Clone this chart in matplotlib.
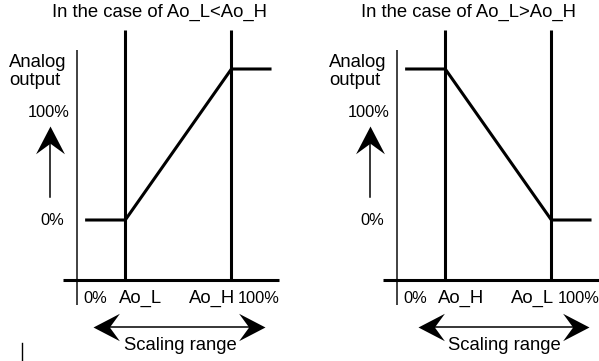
import matplotlib
matplotlib.use('Agg')
import matplotlib.pyplot as plt
from matplotlib.path import Path
from matplotlib.markers import MarkerStyle
from matplotlib.transforms import Affine2D

plt.rcParams['font.family'] = ['Liberation Sans', 'DejaVu Sans']

# -------- data (percent of input / output)
titles = ['In the case of Ao_L<Ao_H', 'In the case of Ao_L>Ao_H']
limit_x = [25, 80]                       # positions of the two vertical limit lines
out_x_left = [5, 25, 80, 100]
out_y_left = [0, 0, 100, 100]
out_x_right = [5, 25, 80, 100]
out_y_right = [100, 100, 0, 0]
xlab_left = ['0%', 'Ao_L', 'Ao_H', '100%']
xlab_right = ['0%', 'Ao_H', 'Ao_L', '100%']
xlab_pos = [9.5, 33, 70, 94.3]
ylab_text = ['100%', '0%']
ylab_pos = [71, 0]
ylab_right = [-3.8, -6.8]

# -------- pixel scale of the drawing
W, H = 599, 361
sx, sy = 1.93, 1.51      # px per percent
y0_px = 220              # row of 0% output

# barbed arrow head, tip at origin, pointing +x
head = Path([(0, 0), (-1, 0.52), (-0.62, 0), (-1, -0.52), (0, 0)],
            [Path.MOVETO, Path.LINETO, Path.LINETO, Path.LINETO, Path.CLOSEPOLY])


def arrow_head(ax, x, y, ang, ms):
    m = MarkerStyle(head, transform=Affine2D().rotate_deg(ang))
    ax.plot([x], [y], marker=m, ms=ms, color='black', mew=0)


def panel(ax, x0_px, title, ox, oy, xlabs, title_x, scal_x):
    ax.set_position([0, 0, 1, 1])
    ax.set_xlim(-x0_px / sx, (W - x0_px) / sx)
    ax.set_ylim((y0_px - H) / sy, y0_px / sy)
    ax.axis('off')

    # axes lines
    ax.plot([0, 0], [-56, 112.6], color='#333333', lw=1.3, solid_capstyle='butt')
    ax.plot([-7.3, 104.5], [-39.7, -39.7], color='black', lw=2.2, solid_capstyle='butt')

    # limit lines
    for xv in limit_x:
        ax.plot([xv, xv], [-39.7, 125.8], color='black', lw=2.2, solid_capstyle='butt')

    # output characteristic
    ax.plot(ox, oy, color='black', lw=2.2, solid_joinstyle='miter')

    # labels
    ax.text(title_x, 137.7, title, fontsize=13.3, ha='center', va='center')
    ax.text(-35.2, 98.5, 'Analog\noutput', fontsize=13.3, ha='left', va='center',
            linespacing=1.05)
    for t, yv, xr in zip(ylab_text, ylab_pos, ylab_right):
        ax.text(xr, yv, t, fontsize=11.8, ha='right', va='center')
    for t, xv in zip(xlabs, xlab_pos):
        fs = 11.8 if '%' in t else 13.3
        ax.text(xv, -51.7, t, fontsize=fs, ha='center', va='center')

    # up arrow
    ax.plot([-14, -14], [15, 55], color='black', lw=1.1)
    arrow_head(ax, -14, 62.5, 90, 40)
    # scaling range arrow
    ax.plot([scal_x[0] + 5, scal_x[1] - 5], [-70.9, -70.9], color='black', lw=1.1)
    arrow_head(ax, scal_x[0], -70.9, 180, 38)
    arrow_head(ax, scal_x[1], -70.9, 0, 38)
    ax.text((scal_x[0] + scal_x[1]) / 2 + 0.5, -82.8, 'Scaling range', fontsize=13.3,
            ha='center', va='center')


fig = plt.figure(figsize=(W / 100, H / 100), dpi=100)
axl = fig.add_axes([0, 0, 1, 1])
axr = fig.add_axes([0, 0, 1, 1])
axr.patch.set_alpha(0)

panel(axl, 77, titles[0], out_x_left, out_y_left, xlab_left, 43, (8.3, 97.4))
panel(axr, 397, titles[1], out_x_right, out_y_right, xlab_right, 37, (10.9, 99.5))

# stray mark bottom left
axl.plot([-28.5, -28.5], [-81.5, -93.4], color='black', lw=1.0)

fig.savefig('out.png', dpi=100)
